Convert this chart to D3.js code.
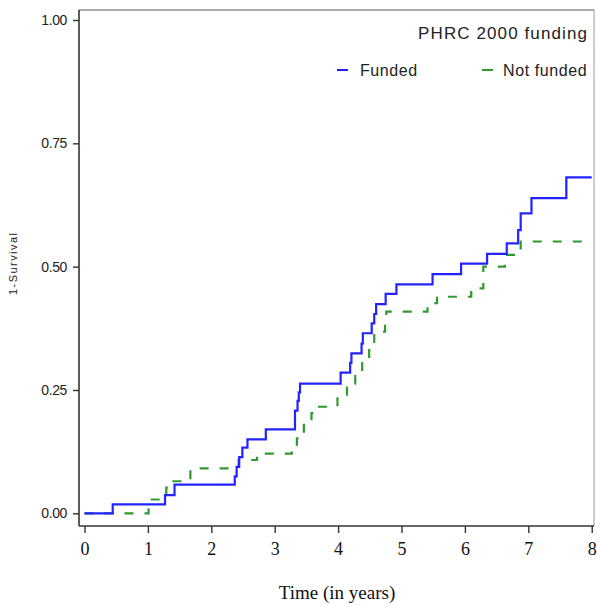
<!DOCTYPE html>
<html>
<head>
<meta charset="utf-8">
<script src="https://cdn.jsdelivr.net/npm/d3@7"></script>
<style>
	body { margin: 0; background: #fff; }
	svg { display: block; }
	.tickY { font-family: "Liberation Sans", Arial, sans-serif; font-size: 14px; fill: #222; }
	.tickX { font-family: "Liberation Serif", "Times New Roman", serif; font-size: 18px; fill: #111; }
	.legend { font-family: "Liberation Sans", Arial, sans-serif; font-size: 16px; fill: #222; letter-spacing: 0.6px; }
</style>
</head>
<body>
<svg id="chart" width="597" height="605"></svg>
<script>
// step times (years) and 1-survival values
const fundedTime = [0, 0.445, 1.27, 1.42, 2.37, 2.40, 2.44, 2.49, 2.57, 2.86, 3.32, 3.36, 3.38, 3.40,
	4.04, 4.19, 4.21, 4.37, 4.39, 4.53, 4.57, 4.60, 4.75, 4.92, 5.49, 5.94, 6.35, 6.66, 6.84, 6.88, 7.05, 7.60, 8.0]
const fundedValue = [0, 0.018, 0.037, 0.058, 0.075, 0.094, 0.114, 0.133, 0.150, 0.170, 0.208, 0.228, 0.245, 0.263,
	0.285, 0.305, 0.324, 0.344, 0.365, 0.385, 0.404, 0.424, 0.445, 0.464, 0.485, 0.506, 0.526, 0.547, 0.574, 0.608, 0.639, 0.681, 0.681]

const notFundedTime = [0, 1.01, 1.29, 1.38, 1.67, 2.43, 2.72, 3.27, 3.35, 3.46, 3.58, 3.65, 3.99, 4.14, 4.27,
	4.38, 4.49, 4.57, 4.74, 4.76, 5.41, 5.56, 6.10, 6.29, 6.63, 6.88, 8.0]
const notFundedValue = [0, 0.028, 0.052, 0.065, 0.091, 0.108, 0.121, 0.135, 0.152, 0.185, 0.203, 0.216, 0.238, 0.263, 0.287,
	0.311, 0.341, 0.368, 0.388, 0.409, 0.426, 0.439, 0.456, 0.500, 0.524, 0.551, 0.551]

const xTicks = [0, 1, 2, 3, 4, 5, 6, 7, 8]
const yTicks = [0, 0.25, 0.5, 0.75, 1]
const legendTitle = "PHRC 2000 funding"
const seriesNames = ["Funded", "Not funded"]

const svg = d3.select("#chart")

const frame = {left: 79, right: 594, top: 10, bottom: 526}

const x = d3.scaleLinear().domain([0, 8]).range([84.5, 591.7])
const y = d3.scaleLinear().domain([0, 1]).range([513.3, 20])

//plot frame, top and right sides are lighter
svg.append("line").attr("x1", frame.left).attr("x2", frame.right).attr("y1", frame.top).attr("y2", frame.top)
	.attr("stroke", "#555").attr("stroke-width", 1.2)
svg.append("line").attr("x1", frame.right).attr("x2", frame.right).attr("y1", frame.top).attr("y2", frame.bottom)
	.attr("stroke", "#aaa").attr("stroke-width", 1.2)

const yAxis = svg.append("g")
	.attr("transform", `translate(${frame.left},0)`)
	.call(d3.axisLeft(y).tickValues(yTicks).tickSize(6).tickPadding(6).tickFormat(d3.format(".2f")))
yAxis.select(".domain").attr("d", `M0,${frame.top}V${frame.bottom}`).attr("stroke", "#333").attr("stroke-width", 1.6)
yAxis.selectAll(".tick line").attr("stroke", "#333").attr("stroke-width", 1.4)
yAxis.selectAll(".tick text").attr("class", "tickY").attr("font-family", null).attr("font-size", null).attr("letter-spacing", -0.4)

const xAxis = svg.append("g")
	.attr("transform", `translate(0,${frame.bottom})`)
	.call(d3.axisBottom(x).tickValues(xTicks).tickSize(7).tickPadding(9).tickFormat(d3.format("d")))
xAxis.select(".domain").attr("d", `M${frame.left},0H${frame.right}`).attr("stroke", "#333").attr("stroke-width", 1.6)
xAxis.selectAll(".tick line").attr("stroke", "#333").attr("stroke-width", 1.4)
xAxis.selectAll(".tick text").attr("class", "tickX").attr("font-family", null).attr("font-size", null)

// axis titles
svg.append("text")
	.attr("transform", "translate(17,264) rotate(-90)")
	.attr("text-anchor", "middle")
	.attr("font-family", "Liberation Sans, Arial, sans-serif")
	.attr("font-size", 11)
	.attr("textLength", 62)
	.attr("fill", "#222")
	.text("1-Survival")

svg.append("text")
	.attr("x", 337).attr("y", 599)
	.attr("text-anchor", "middle")
	.attr("font-family", "Liberation Serif, Times New Roman, serif")
	.attr("font-size", 19)
	.attr("fill", "#111")
	.text("Time (in years)")

const line = d3.line().x(d => x(d[0])).y(d => y(d[1])).curve(d3.curveStepAfter)

const series = [
	{name: seriesNames[0], pts: d3.zip(fundedTime, fundedValue), color: "#2323ff", dash: null},
	{name: seriesNames[1], pts: d3.zip(notFundedTime, notFundedValue), color: "#2e9a2e", dash: "9,11"},
]

svg.selectAll("path.km")
	.data(series.slice().reverse())
	.join("path")
		.classed("km", true)
		.attr("d", s => line(s.pts))
		.attr("fill", "none")
		.attr("stroke", s => s.color)
		.attr("stroke-width", 2.2)
		.attr("stroke-dasharray", s => s.dash)

// legend
const legend = svg.append("g").attr("class", "legend")
legend.append("text")
	.attr("x", 588).attr("y", 39)
	.attr("text-anchor", "end")
	.attr("font-size", 17)
	.attr("letter-spacing", 1.1)
	.text(legendTitle)

const legendPos = [{lx: 337, tx: 360}, {lx: 482, tx: 503}]
series.forEach((s, i) => {
	let p = legendPos[i]
	legend.append("line")
		.attr("x1", p.lx).attr("x2", p.lx + 11).attr("y1", 70).attr("y2", 70)
		.attr("stroke", s.color).attr("stroke-width", 2)
	legend.append("text")
		.attr("x", p.tx).attr("y", 76)
		.text(s.name)
})
</script>
</body>
</html>
